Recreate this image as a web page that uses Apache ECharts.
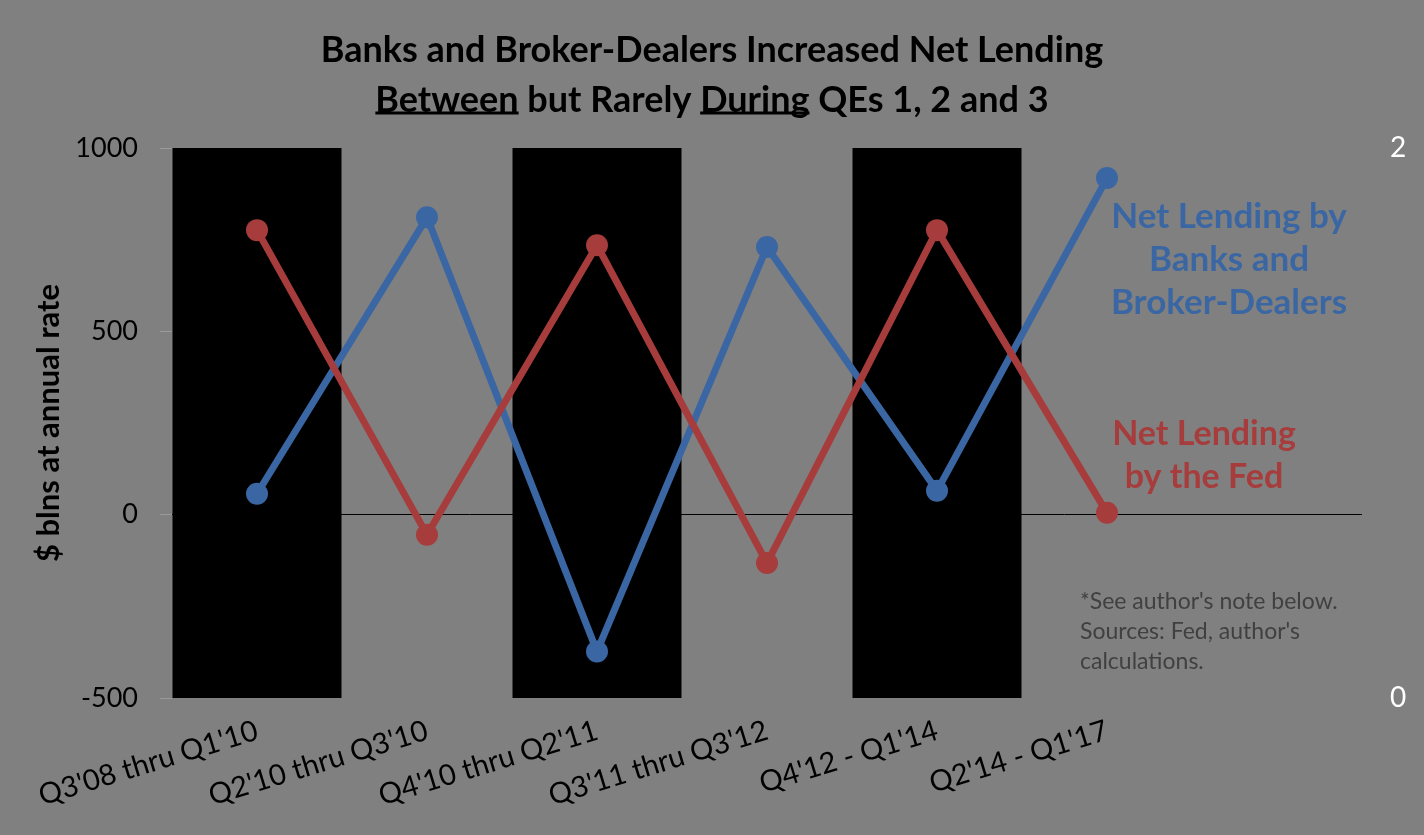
<!DOCTYPE html>
<html>
<head>
<meta charset="utf-8">
<script src="https://cdn.jsdelivr.net/npm/echarts@6/dist/echarts.min.js"></script>
<style>
html,body{margin:0;padding:0;background:#808080;}
#c{width:1424px;height:835px;}
</style>
</head>
<body>
<div id="c"></div>
<script>
const categories = ["Q3'08 thru Q1'10", "Q2'10 thru Q3'10", "Q4'10 thru Q2'11", "Q3'11 thru Q3'12", "Q4'12 - Q1'14", "Q2'14 - Q1'17", ""];
const banksValues = [57, 811, -373, 730, 65, 918, null];
const fedValues = [776, -55, 735, -132, 776, 5, null];
const qePeriods = [2, null, 2, null, 2, null, null];
const leftTicks = { min: -500, max: 1000, interval: 500 };
const rightTicks = { min: 0, max: 2, interval: 2 };

const FONT = 'Lato';
const BLUE = '#3A67A3';
const RED = '#A63C3C';
const TITLE1 = 'Banks and Broker-Dealers Increased Net Lending';
const TITLE2 = 'Between but Rarely During QEs 1, 2 and 3';
const TITLE_SIZE = 36;

// measure text to place underlines under "Between" and "During"
const mctx = document.createElement('canvas').getContext('2d');
mctx.font = 'bold ' + TITLE_SIZE + 'px ' + FONT;
const mw = s => mctx.measureText(s).width;
const t2x0 = 712 - mw(TITLE2) / 2;
const betweenX1 = t2x0, betweenX2 = t2x0 + mw('Between');
const duringX1 = t2x0 + mw('Between but Rarely '), duringX2 = duringX1 + mw('During');
const UL_Y = 113;

const chart = echarts.init(document.getElementById('c'));
chart.setOption({
  backgroundColor: '#808080',
  animation: false,
  textStyle: { fontFamily: FONT },
  title: {
    left: 'center',
    top: 20,
    text: TITLE1 + '\n' + TITLE2,
    textStyle: { fontFamily: FONT, fontWeight: 'bold', fontSize: TITLE_SIZE, lineHeight: 50, color: '#000' }
  },
  grid: { left: 172, right: 62, top: 148, bottom: 137 },
  xAxis: {
    type: 'category',
    data: categories,
    boundaryGap: true,
    axisLine: { show: false },
    axisTick: { show: false },
    axisLabel: { interval: 0, rotate: 17, margin: 32, fontSize: 29, color: '#000', fontFamily: FONT }
  },
  yAxis: [
    {
      type: 'value', min: leftTicks.min, max: leftTicks.max, interval: leftTicks.interval,
      name: '$ blns at annual rate', nameLocation: 'middle', nameGap: 108, nameRotate: 90,
      nameTextStyle: { fontSize: 31, fontWeight: 'bold', color: '#000', fontFamily: FONT },
      axisLine: { show: false },
      axisTick: { show: true, length: 12, lineStyle: { color: '#9a9a9a', width: 1 } },
      axisLabel: { fontSize: 27, color: '#000', margin: 34, fontFamily: FONT, formatter: v => String(v) },
      splitLine: { show: false }
    },
    {
      type: 'value', min: rightTicks.min, max: rightTicks.max, interval: rightTicks.interval,
      position: 'right',
      axisLine: { show: false },
      axisTick: { show: false },
      axisLabel: { fontSize: 28, color: '#fff', margin: 28, fontFamily: FONT },
      splitLine: { show: false }
    }
  ],
  series: [
    {
      name: 'QE', type: 'bar', yAxisIndex: 1, data: qePeriods, barWidth: 169,
      itemStyle: { color: '#000' }, z: 0, silent: true
    },
    {
      name: 'Net Lending by Banks and Broker-Dealers', type: 'line', yAxisIndex: 0, data: banksValues,
      lineStyle: { color: BLUE, width: 7 }, itemStyle: { color: BLUE },
      symbol: 'circle', symbolSize: 22, z: 3,
      markLine: {
        silent: true, symbol: 'none', z: 1,
        label: { show: false },
        lineStyle: { color: '#000', width: 1, type: 'solid' },
        data: [{ yAxis: 0 }]
      }
    },
    {
      name: 'Net Lending by the Fed', type: 'line', yAxisIndex: 0, data: fedValues,
      lineStyle: { color: RED, width: 7 }, itemStyle: { color: RED },
      symbol: 'circle', symbolSize: 22, z: 4
    }
  ],
  graphic: [
    { type: 'line', shape: { x1: betweenX1, y1: UL_Y, x2: betweenX2, y2: UL_Y }, style: { stroke: '#000', lineWidth: 3 } },
    { type: 'line', shape: { x1: duringX1, y1: UL_Y, x2: duringX2, y2: UL_Y }, style: { stroke: '#000', lineWidth: 3 } },
    {
      type: 'text', x: 1229, y: 195,
      style: { text: 'Net Lending by\nBanks and\nBroker-Dealers', fill: BLUE, font: 'bold 35px ' + FONT, lineHeight: 43, align: 'center' }
    },
    {
      type: 'text', x: 1204, y: 413,
      style: { text: 'Net Lending\nby the Fed', fill: RED, font: 'bold 34px ' + FONT, lineHeight: 43, align: 'center' }
    },
    {
      type: 'text', x: 1080, y: 587,
      style: { text: "*See author's note below.\nSources: Fed, author's\ncalculations.", fill: '#404040', font: '23px ' + FONT, lineHeight: 30, align: 'left' }
    }
  ]
});
</script>
</body>
</html>
